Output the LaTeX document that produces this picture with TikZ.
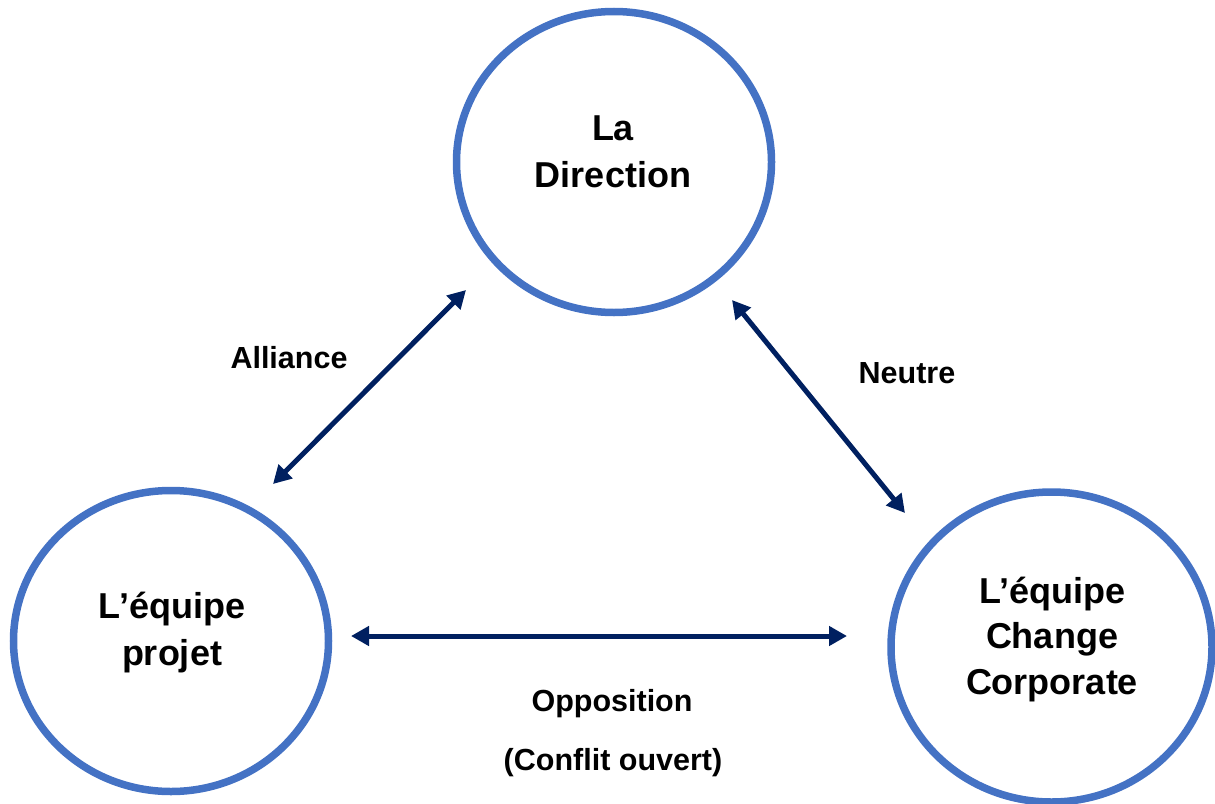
\documentclass[tikz,border=0pt]{standalone}
\usepackage{fontspec}
\setmainfont{Liberation Sans}
\usetikzlibrary{shapes.geometric,arrows.meta}
\definecolor{ringblue}{HTML}{4472C4}
\definecolor{navy}{HTML}{002060}
\begin{document}
\begin{tikzpicture}[x=1pt,y=-1pt,
  ring/.style={draw=ringblue,line width=7.5pt,ellipse,minimum width=315pt,minimum height=301pt,inner sep=0pt},
  bigtext/.style={anchor=base,align=center,inner sep=0pt,font=\bfseries\fontsize{36}{47}\selectfont},
  bigtextR/.style={anchor=base,align=center,inner sep=0pt,font=\bfseries\fontsize{36}{45.5}\selectfont},
  lbl/.style={anchor=base,inner sep=0pt,font=\bfseries\fontsize{30.5}{36}\selectfont},
  rel/.style={draw=navy,line width=5pt,{Triangle[length=18pt,width=19pt]}-{Triangle[length=18pt,width=19pt]}}]
\useasboundingbox (0,0) rectangle (1215,803);
\node[ring] (dir) at (614,162) {};
\node[ring] (proj) at (171,641) {};
\node[ring,minimum width=321pt,minimum height=310pt] (corp) at (1051.5,647) {};
\node[bigtext] (tdir) at (613,187) {La\\Direction};
\node[bigtext] (tproj) at (172,665) {L’équipe\\projet};
\node[bigtextR] (tcorp) at (1052,694) {L’équipe\\Change\\Corporate};
\coordinate (a1) at (273,484);
\coordinate (a2) at (466,290);
\coordinate (b1) at (732,300);
\coordinate (b2) at (905,513);
\coordinate (c1) at (351,636);
\coordinate (c2) at (847,636);
\draw[rel] (a1) -- (a2);
\draw[rel] (b1) -- (b2);
\draw[rel] (c1) -- (c2);
\node[lbl] (lall) at (289,368) {Alliance};
\node[lbl] (lneu) at (907,383) {Neutre};
\node[lbl] (lopp) at (612,711) {Opposition};
\node[lbl] (lcon) at (613,770) {(Conflit ouvert)};
\end{tikzpicture}
\end{document}
